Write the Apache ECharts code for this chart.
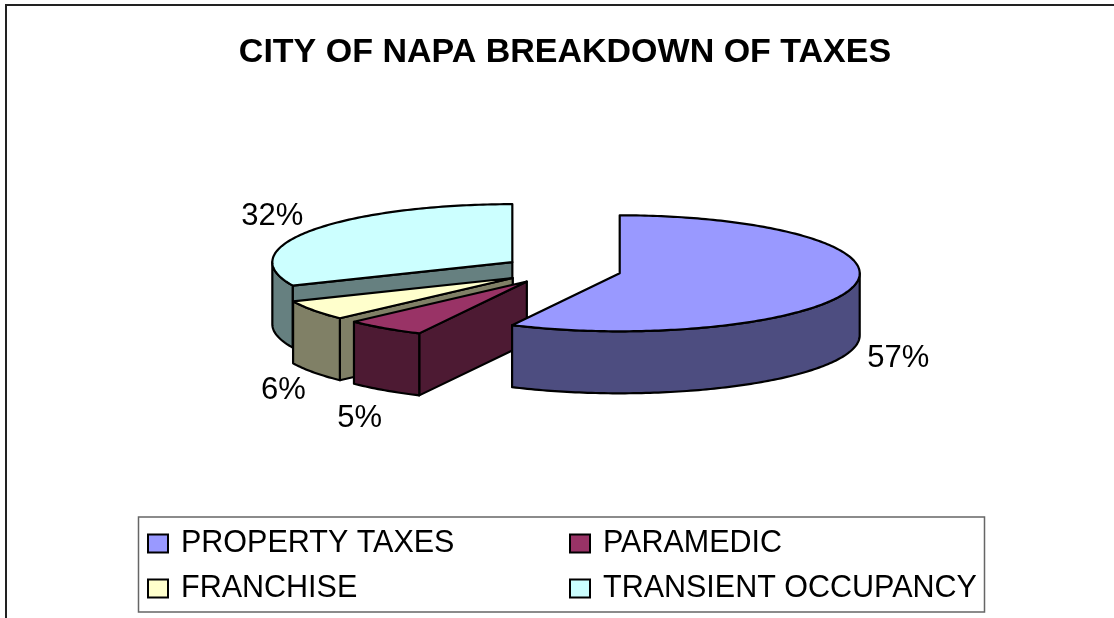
<!DOCTYPE html>
<html>
<head>
<meta charset="utf-8">
<style>html,body{margin:0;padding:0;background:#fff}#c{width:1114px;height:618px}</style>
<script src="https://cdn.jsdelivr.net/npm/echarts@6/dist/echarts.min.js"></script>
</head>
<body>
<div id="c"></div>
<script>
// ---- data ----
const titleText = 'CITY OF NAPA BREAKDOWN OF TAXES';
const categories = ['PROPERTY TAXES', 'PARAMEDIC', 'FRANCHISE', 'TRANSIENT OCCUPANCY'];
const shares = [57.4, 5.4, 5.6, 31.6];

// ---- styling and layout ----
const topColors  = ['#9999FF', '#993366', '#FFFFCC', '#CCFFFF'];
const sideColors = ['#4D4D80', '#4D1A33', '#808066', '#668080'];
const labelNudge = [[45, 72], [-25, 90], [-30, 80], [-39, -14]];
const legendSlots = [[148, 529], [570, 529], [148, 574], [570, 574]];
const drawOrder = [3, 2, 1, 0];
const PIE = {cx: 562, cy: 270, rx: 240, ry: 58, depth: 62, explode: 59.3};
const FONT = '"Liberation Sans", Arial, sans-serif';

const total = shares.reduce((a, b) => a + b, 0);
const startAngles = shares.map((_, i) => shares.slice(0, i).reduce((a, b) => a + b, 0) / total * 360);
const endAngles = shares.map((v, i) => startAngles[i] + v / total * 360);
const rad = d => d * Math.PI / 180;

function renderSlice(i) {
  const a0 = startAngles[i], a1 = endAngles[i], mid = (a0 + a1) / 2;
  const ax = PIE.cx + PIE.explode * Math.sin(rad(mid));
  const ay = PIE.cy - PIE.explode * Math.cos(rad(mid)) * PIE.ry / PIE.rx;
  const rim = (d, drop) => [ax + PIE.rx * Math.sin(rad(d)), ay - PIE.ry * Math.cos(rad(d)) + (drop || 0)];
  const arc = (from, to, drop) => {
    const pts = [], n = Math.max(2, Math.ceil(Math.abs(to - from)));
    for (let k = 0; k <= n; k++) pts.push(rim(from + (to - from) * k / n, drop));
    return pts;
  };
  const line = {stroke: '#000', lineWidth: 2.2, lineJoin: 'round'};
  const children = [];
  if (Math.cos(rad(a0)) < 0) {
    const p = rim(a0);
    children.push({type: 'polygon', shape: {points: [[ax, ay], p, [p[0], p[1] + PIE.depth], [ax, ay + PIE.depth]]},
      style: Object.assign({fill: sideColors[i]}, line)});
  }
  const w0 = Math.max(a0, 90), w1 = Math.min(a1, 270);
  if (w1 > w0) {
    children.push({type: 'polygon', shape: {points: arc(w0, w1, 0).concat(arc(w1, w0, PIE.depth))},
      style: Object.assign({fill: sideColors[i]}, line)});
  }
  children.push({type: 'polygon', shape: {points: [[ax, ay]].concat(arc(a0, a1, 0))},
    style: Object.assign({fill: topColors[i]}, line)});
  const anchor = rim(mid);
  children.push({type: 'text', style: {
    text: Math.round(shares[i] / total * 100) + '%',
    x: anchor[0] + labelNudge[i][0], y: anchor[1] + labelNudge[i][1],
    align: 'center', verticalAlign: 'middle', fill: '#000',
    font: '31px ' + FONT}});
  return {type: 'group', children};
}

const chart = echarts.init(document.getElementById('c'));
chart.setOption({
  animation: false,
  backgroundColor: '#fff',
  title: {text: titleText, left: 560, top: 31, textAlign: 'center',
    textStyle: {fontFamily: FONT, fontWeight: 'bold', fontSize: 34, color: '#000'}},
  legend: categories.map((name, i) => ({
    data: [name], left: legendSlots[i][0] - 6, top: legendSlots[i][1] - 6,
    orient: 'horizontal', selectedMode: false, icon: 'rect',
    itemWidth: 20, itemHeight: 18,
    itemStyle: {borderColor: '#000', borderWidth: 2},
    textStyle: {fontFamily: FONT, fontSize: 30.5, color: '#000', padding: [0, 0, 0, 8]}
  })),
  graphic: [
    {type: 'rect', silent: true, z: -1, shape: {x: 6, y: 5, width: 1200, height: 800},
      style: {fill: '#fff', stroke: '#222', lineWidth: 2}},
    {type: 'rect', silent: true, z: -1, shape: {x: 138.5, y: 517, width: 846, height: 95},
      style: {fill: '#fff', stroke: '#666', lineWidth: 1.5}}
  ],
  series: drawOrder.map(i => ({
    type: 'custom', name: categories[i], coordinateSystem: 'none',
    clip: false, silent: true,
    itemStyle: {color: topColors[i]},
    data: [[shares[i]]],
    renderItem: () => renderSlice(i)
  }))
});
</script>
</body>
</html>
